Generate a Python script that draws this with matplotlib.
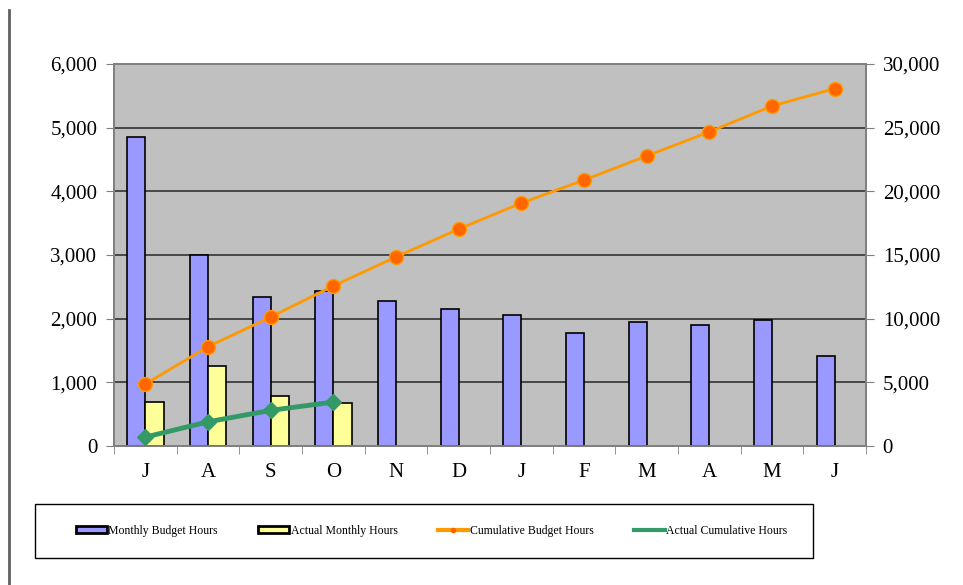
import matplotlib.pyplot as plt
import numpy as np
from matplotlib.lines import Line2D
from matplotlib.patches import Patch, Rectangle
from matplotlib.ticker import FuncFormatter

months = ['J', 'A', 'S', 'O', 'N', 'D', 'J', 'F', 'M', 'A', 'M', 'J']
budget = [4860, 3000, 2340, 2440, 2280, 2150, 2050, 1780, 1940, 1900, 1980, 1415]
actual = [690, 1260, 790, 680]
cum_budget = [4870, 7800, 10130, 12570, 14850, 17040, 19080, 20890, 22780, 24670, 26700, 28070]
cum_actual = [700, 1900, 2800, 3450]

plt.rcParams['font.family'] = ['Liberation Serif', 'DejaVu Serif']

fig = plt.figure(figsize=(9.63, 5.85), dpi=100)
ax = fig.add_axes([0.1184, 0.2376, 0.7809, 0.653])
ax.set_facecolor('#C0C0C0')

x = np.arange(len(months))
w = 0.29
ax.bar(x - w / 2, budget, w, color='#9999FF', edgecolor='black', linewidth=1.2, zorder=3)
ax.bar(x[:len(actual)] + w / 2, actual, w, color='#FFFF99', edgecolor='black',
       linewidth=1.2, zorder=3)

ax.set_xlim(-0.5, len(months) - 0.5)
ax.set_ylim(0, 6000)
ax.set_yticks(np.arange(0, 6001, 1000))
ax.yaxis.grid(True, color='#333333', linewidth=1.2, zorder=1)
ax.set_axisbelow(True)
fmt = FuncFormatter(lambda v, p: f'{int(v):,}')
ax.yaxis.set_major_formatter(fmt)
ax.set_xticks(x)
ax.set_xticklabels(months)
ax.set_xticks(np.arange(-0.5, len(months), 1), minor=True)
ax.tick_params(axis='x', which='major', length=0, labelsize=15, pad=12)
ax.tick_params(axis='x', which='minor', length=6, color='#808080')
ax.tick_params(axis='y', length=6, color='#808080', labelsize=15, pad=6)

ax2 = ax.twinx()
ax2.set_ylim(0, 30000)
ax2.set_yticks(np.arange(0, 30001, 5000))
ax2.yaxis.set_major_formatter(fmt)
ax2.tick_params(axis='y', length=6, color='#808080', labelsize=15, pad=6)
ax2.plot(x, cum_budget, color='#FF9900', linewidth=2, marker='o', markersize=10,
         markerfacecolor='#FF6600', markeredgecolor='#FF9900', zorder=4)
ax2.plot(x[:len(cum_actual)], cum_actual, color='#339966', linewidth=3.5, marker='D',
         markersize=8, markerfacecolor='#339966', markeredgecolor='#339966', zorder=4)

for a in (ax, ax2):
    for s in a.spines.values():
        s.set_color('#808080')
        s.set_linewidth(1.3)

# legend frame drawn separately so it can be wider than the entries
fig.add_artist(Rectangle((0.0363, 0.046), 0.808, 0.0923, transform=fig.transFigure,
                         facecolor='white', edgecolor='black', linewidth=1.0))

handles = [
    Patch(facecolor='#9999FF', edgecolor='black', linewidth=2),
    Patch(facecolor='#FFFF99', edgecolor='black', linewidth=2),
    Line2D([], [], color='#FF9900', linewidth=3, marker='o', markersize=3,
           markerfacecolor='#FF6600', markeredgecolor='#FF6600'),
    Line2D([], [], color='#339966', linewidth=3),
]
labels = ['Monthly Budget Hours', 'Actual Monthly Hours',
          'Cumulative Budget Hours', 'Actual Cumulative Hours']
leg = fig.legend(handles, labels, ncol=4, loc='center',
                 bbox_to_anchor=(0.0363 + 0.808 / 2 + 0.008, 0.046 + 0.0923 / 2),
                 frameon=False, fontsize=8.5, handlelength=2.6, handleheight=0.55,
                 handletextpad=0.15, columnspacing=3.4)

fig.add_artist(Line2D([0.0093, 0.0093], [0, 0.983], color='#606060', linewidth=2))

plt.savefig('out.png', dpi=100)
